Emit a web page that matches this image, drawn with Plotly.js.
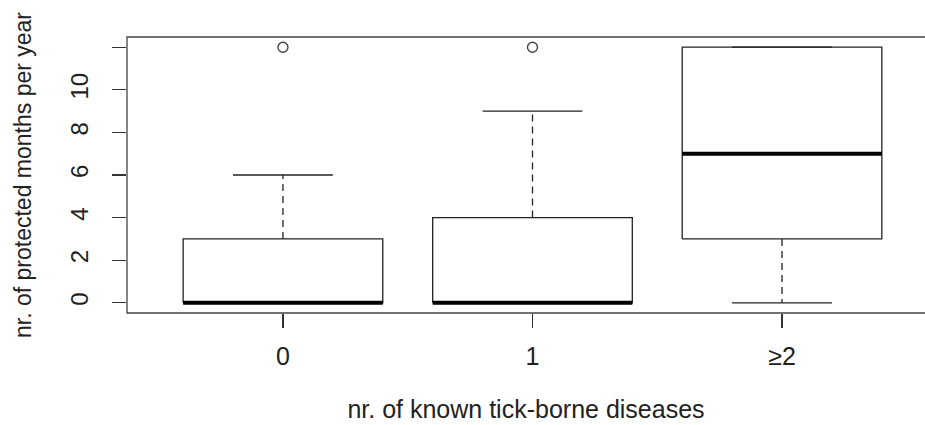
<!DOCTYPE html>
<html>
<head>
<meta charset="utf-8">
<script src="https://cdn.plot.ly/plotly-3.0.1.min.js"></script>
<style>html,body{margin:0;padding:0;background:#fff;overflow:hidden;}</style>
</head>
<body>
<div id="chart" style="width:925px;height:425px;"></div>
<script>
// Data
const categories = ["0", "1", "\u22652"];
const positions = [1, 2, 3];
const lowerWhisker = [0, 0, 0];
const q1 = [0, 0, 3];
const median = [0, 0, 7];
const q3 = [3, 4, 12];
const upperWhisker = [6, 9, 12];
const outliers = [[12], [12], []];
const yTicks = [0, 2, 4, 6, 8, 10, 12];
const yTickLabels = ["0", "2", "4", "6", "8", "10", ""];

// Styles
const BOXW = 0.8, CAPW = 0.4;
const lineCol = "#222";
const traces = [];

positions.forEach((p, i) => {
  const l = p - BOXW / 2, r = p + BOXW / 2;
  traces.push({
    type: "scatter", mode: "lines", x: [l, r, r, l, l], y: [q1[i], q1[i], q3[i], q3[i], q1[i]],
    fill: "toself", fillcolor: "#fff", line: {color: lineCol, width: 1.3}, hoverinfo: "skip", showlegend: false
  });
  traces.push({
    type: "scatter", mode: "lines", x: [p, p, null, p, p], y: [q3[i], upperWhisker[i], null, q1[i], lowerWhisker[i]],
    line: {color: lineCol, width: 1.3, dash: "7px,5px"}, hoverinfo: "skip", showlegend: false
  });
  traces.push({
    type: "scatter", mode: "lines",
    x: [p - CAPW / 2, p + CAPW / 2, null, p - CAPW / 2, p + CAPW / 2],
    y: [upperWhisker[i], upperWhisker[i], null, lowerWhisker[i], lowerWhisker[i]],
    line: {color: lineCol, width: 1.3}, hoverinfo: "skip", showlegend: false
  });
  traces.push({
    type: "scatter", mode: "lines", x: [l, r], y: [median[i], median[i]],
    line: {color: "#000", width: 4}, hoverinfo: "skip", showlegend: false
  });
  if (outliers[i].length) {
    traces.push({
      type: "scatter", mode: "markers", x: outliers[i].map(() => p), y: outliers[i],
      marker: {symbol: "circle-open", size: 10, color: "#444", line: {width: 1.4, color: "#444"}},
      hoverinfo: "skip", showlegend: false
    });
  }
});

const fam = "Liberation Sans, Arial, sans-serif";
const txt = "#222";

const layout = {
  width: 925, height: 425,
  margin: {l: 127, r: 0, t: 37, b: 112, pad: 0},
  paper_bgcolor: "#fff", plot_bgcolor: "#fff",
  showlegend: false,
  font: {size: 25, family: fam, color: txt},
  xaxis: {
    range: [0.375, 3.573], tickmode: "array", tickvals: positions, ticktext: categories,
    ticks: "outside", ticklen: 14, tickwidth: 1.2, tickcolor: "#333",
    showgrid: false, zeroline: false, showline: false,
    tickfont: {size: 25, family: fam, color: txt},
    ticklabelstandoff: 7,
    title: {text: "nr. of known tick-borne diseases", font: {size: 25, family: fam, color: txt}, standoff: 31}
  },
  yaxis: {
    range: [-0.48, 12.48], tickmode: "array", tickvals: yTicks, ticktext: yTickLabels,
    ticks: "outside", ticklen: 14, tickwidth: 1.2, tickcolor: "#333", tickangle: -90,
    showgrid: false, zeroline: false, showline: false,
    tickfont: {size: 24, family: fam, color: txt},
    ticklabelstandoff: 14,
    title: {text: "nr. of protected months per year", font: {size: 23, family: fam, color: txt}, standoff: 28}
  },
  shapes: [{
    type: "rect", xref: "paper", yref: "paper", x0: 0, x1: 1.05, y0: 0, y1: 1,
    line: {color: "#444", width: 1.3}, fillcolor: "rgba(0,0,0,0)", layer: "above"
  }]
};

Plotly.newPlot("chart", traces, layout, {displayModeBar: false, staticPlot: true});
</script>
</body>
</html>
